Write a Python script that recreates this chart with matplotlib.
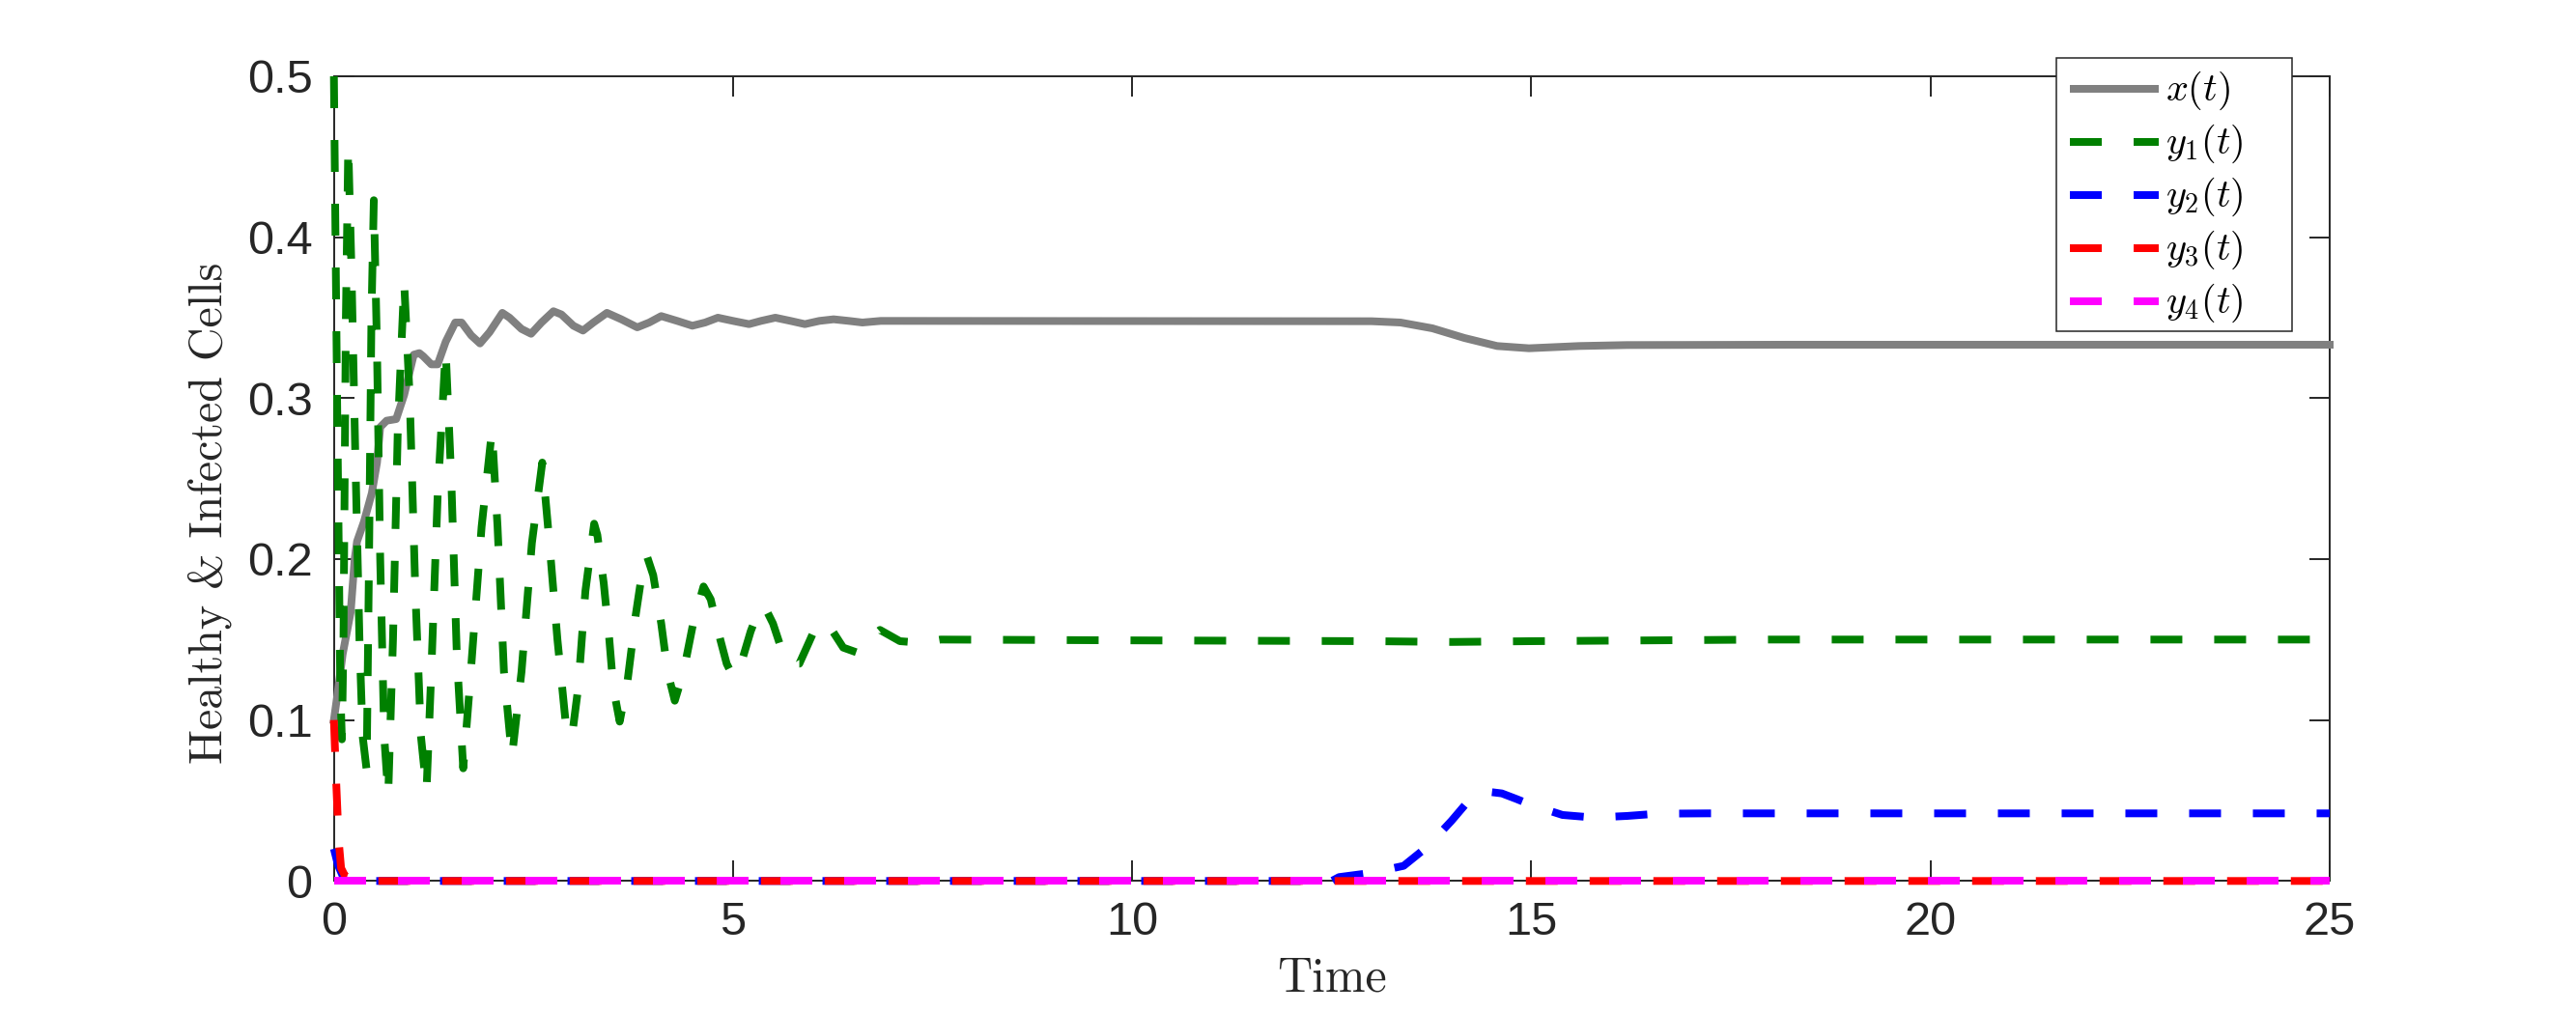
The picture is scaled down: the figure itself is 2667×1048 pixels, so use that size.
import matplotlib
matplotlib.use("Agg")
import matplotlib.pyplot as plt
from matplotlib.lines import Line2D
from matplotlib.patches import Rectangle

plt.rcParams['mathtext.fontset'] = 'cm'
plt.rcParams['font.family'] = ['Liberation Sans', 'DejaVu Sans']

# ---------------- data ----------------
x_t = [0.00, 0.05, 0.11, 0.21, 0.26, 0.29, 0.375, 0.475, 0.54, 0.58, 0.66, 0.78, 0.88,
       1.00, 1.07, 1.12, 1.22, 1.30, 1.40, 1.52, 1.60, 1.72, 1.83, 1.95, 2.11, 2.20,
       2.35, 2.47, 2.60, 2.75, 2.85, 3.00, 3.12, 3.25, 3.42, 3.60, 3.80, 3.95, 4.10,
       4.30, 4.49, 4.65, 4.81, 5.00, 5.20, 5.35, 5.53, 5.72, 5.90, 6.08, 6.26, 6.45,
       6.62, 6.85, 7.00, 13.00, 13.36, 13.76, 14.16, 14.57, 14.97, 15.60, 16.20,
       18.20, 25.00]
x_v = [0.100, 0.118, 0.141, 0.167, 0.200, 0.211, 0.223, 0.241, 0.260, 0.282, 0.286, 0.287, 0.302,
       0.327, 0.328, 0.326, 0.321, 0.321, 0.335, 0.347, 0.347, 0.339, 0.334, 0.341, 0.353, 0.350,
       0.343, 0.340, 0.347, 0.354, 0.352, 0.345, 0.342, 0.347, 0.353, 0.349, 0.344, 0.347, 0.351,
       0.348, 0.345, 0.347, 0.350, 0.348, 0.346, 0.348, 0.350, 0.348, 0.346, 0.348, 0.349, 0.348,
       0.347, 0.348, 0.348, 0.3478, 0.3470, 0.3434, 0.3374, 0.3324, 0.3310, 0.3324, 0.3330,
       0.3332, 0.3332]

y1_t = [0.00, 0.04, 0.08, 0.10, 0.12, 0.15, 0.18, 0.22, 0.27, 0.32, 0.36, 0.41,
        0.44, 0.47, 0.50, 0.54, 0.58, 0.63, 0.68, 0.74, 0.80, 0.88, 0.95, 1.02,
        1.09, 1.16, 1.22, 1.30, 1.40, 1.47, 1.54, 1.62, 1.70, 1.85, 1.98, 2.05,
        2.13, 2.23, 2.35, 2.48, 2.61, 2.70, 2.80, 2.90, 2.98, 3.06, 3.15, 3.26,
        3.30, 3.38, 3.45, 3.50, 3.58, 3.68, 3.78, 3.88, 3.92, 4.00, 4.10, 4.18,
        4.27, 4.38, 4.50, 4.63, 4.72, 4.84, 4.92, 5.00, 5.10, 5.22, 5.32, 5.39,
        5.50, 5.60, 5.74, 5.83, 5.93, 6.02, 6.10, 6.25, 6.38, 6.55, 6.72, 6.84,
        7.09, 7.35, 7.60, 10.00, 13.00, 14.00, 15.00, 18.00, 25.00]
y1_v = [0.500, 0.300, 0.120, 0.088, 0.150, 0.350, 0.457, 0.380, 0.260, 0.150, 0.090, 0.069,
        0.200, 0.350, 0.423, 0.330, 0.200, 0.090, 0.053, 0.150, 0.280, 0.372, 0.300, 0.180,
        0.090, 0.056, 0.130, 0.240, 0.330, 0.250, 0.140, 0.070, 0.120, 0.220, 0.280, 0.220,
        0.130, 0.077, 0.130, 0.210, 0.260, 0.210, 0.150, 0.100, 0.089, 0.120, 0.180, 0.222,
        0.215, 0.185, 0.150, 0.120, 0.099, 0.125, 0.165, 0.198, 0.202, 0.190, 0.160, 0.130,
        0.112, 0.130, 0.160, 0.183, 0.175, 0.150, 0.135, 0.127, 0.135, 0.155, 0.168, 0.171,
        0.160, 0.145, 0.135, 0.135, 0.146, 0.156, 0.161, 0.155, 0.145, 0.142, 0.151, 0.156,
        0.149, 0.148, 0.150, 0.1495, 0.149, 0.1485, 0.149, 0.150, 0.150]

y2_t = [0.00, 0.05, 0.12, 0.30, 12.50, 12.59, 12.99, 13.40, 13.70, 14.00, 14.24, 14.45,
        14.63, 14.81, 14.99, 15.39, 15.78, 16.20, 16.58, 17.20, 25.00]
y2_v = [0.020, 0.010, 0.002, 0.000, 0.000, 0.0024, 0.005, 0.0094, 0.0214, 0.0374, 0.0514, 0.0555,
        0.0544, 0.0510, 0.0474, 0.0410, 0.0394, 0.0404, 0.0418, 0.0420, 0.0420]

y3_t = [0.00, 0.03, 0.06, 0.09, 0.14, 0.30, 0.50, 25.00]
y3_v = [0.100, 0.060, 0.025, 0.008, 0.003, 0.0005, 0.000, 0.000]

y4_t = [0.00, 25.00]
y4_v = [0.000, 0.000]

labels = [r'$x(t)$', r'$y_1(t)$', r'$y_2(t)$', r'$y_3(t)$', r'$y_4(t)$']
colors = ['#808080', '#008000', '#0000ff', '#ff0000', '#ff00ff']
xticks = [0, 5, 10, 15, 20, 25]
yticks = [0, 0.1, 0.2, 0.3, 0.4, 0.5]
xtick_labels = ['0', '5', '10', '15', '20', '25']
ytick_labels = ['0', '0.1', '0.2', '0.3', '0.4', '0.5']
xlabel = 'Time'
ylabel = 'Healthy & Infected Cells'

# ---------------- figure ----------------
W, H = 2667, 1048
fig = plt.figure(figsize=(W / 100, H / 100), dpi=100)
ax = fig.add_axes([345.7 / W, 1 - 912.3 / H, (2412 - 345.7) / W, (912.3 - 79) / H])

lw = 8 * 72 / 100  # 8 px
dash = (0, (4.125, 4.125))
styles = ['-', dash, dash, dash, dash]
series = [(x_t, x_v), (y1_t, y1_v), (y2_t, y2_v), (y3_t, y3_v), (y4_t, y4_v)]
for (t, v), ls, c, lab in zip(series, styles, colors, labels):
    ax.plot(t, v, color=c, lw=lw, linestyle=ls, label=lab, clip_on=False,
            zorder=3, solid_joinstyle='round', dash_capstyle='butt')

ax.set_xlim(0, 25)
ax.set_ylim(0, 0.5)
ax.set_xticks(xticks)
ax.set_xticklabels(xtick_labels)
ax.set_yticks(yticks)
ax.set_yticklabels(ytick_labels)

axcol = '#262626'
for s in ax.spines.values():
    s.set_color(axcol)
    s.set_linewidth(1.4)
    s.set_zorder(2.5)
ax.tick_params(direction='in', length=15, width=1.4, colors=axcol,
               top=True, right=True, labelsize=35)
ax.tick_params(axis='x', pad=15)
ax.tick_params(axis='y', pad=16)

fig.text(1379 / W, 1 - 1014 / H, xlabel, ha='center', va='center',
         fontsize=36, color=axcol, fontfamily='cmr10')
fig.text(217 / W, 1 - 531.6 / H, ylabel,
         ha='center', va='center', rotation=90, fontsize=34.5, color=axcol,
         fontfamily='cmr10')

# ---------------- legend (box placed as in the reference) ----------------
fig.add_artist(Rectangle((2129 / W, 1 - 343 / H), 244 / W, 283 / H,
                         transform=fig.transFigure, facecolor='white',
                         edgecolor=axcol, lw=1.1, zorder=10))
row_y = [91.7, 146.7, 201.7, 256.7, 311.7]
for ry, ls, c, lab in zip(row_y, styles, colors, labels):
    fig.add_artist(Line2D([2143 / W, 2235 / W], [1 - ry / H, 1 - ry / H],
                          transform=fig.transFigure, color=c, lw=lw,
                          linestyle=ls, dash_capstyle='butt',
                          solid_capstyle='butt', zorder=11))
    fig.text(2242 / W, 1 - (ry + 2) / H, lab, ha='left', va='center',
             fontsize=29, color='black', zorder=12)

fig.savefig('out.png', dpi=100)
